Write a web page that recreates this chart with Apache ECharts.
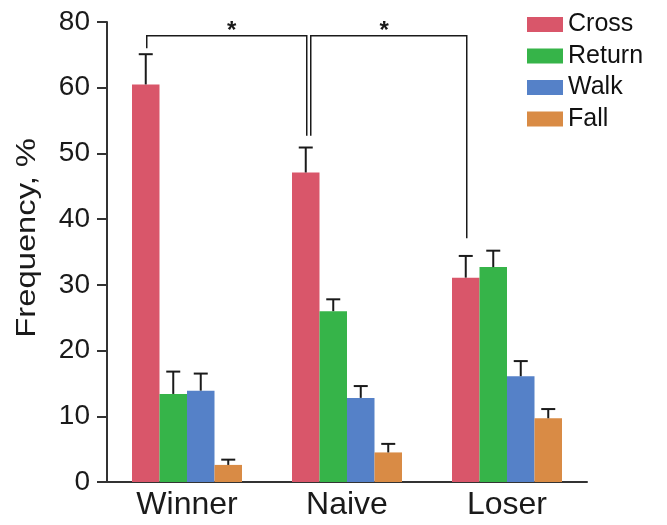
<!DOCTYPE html>
<html>
<head>
<meta charset="utf-8">
<script src="https://cdn.jsdelivr.net/npm/echarts@6/dist/echarts.min.js"></script>
<style>html,body{margin:0;padding:0;background:#fff}#c{width:667px;height:525px}</style>
</head>
<body>
<div id="c"></div>
<script>
const categories = ['Winner', 'Naive', 'Loser'];
const seriesNames = ['Cross', 'Return', 'Walk', 'Fall'];
const crossValues = [60.5, 47.1, 31.1];
const crossErr = [4.6, 3.8, 3.3];
const returnValues = [13.4, 26.0, 32.7];
const returnErr = [3.4, 1.8, 2.5];
const walkValues = [13.9, 12.8, 16.1];
const walkErr = [2.6, 1.8, 2.3];
const fallValues = [2.6, 4.5, 9.7];
const fallErr = [0.8, 1.3, 1.4];
const yTickLabels = ['0', '10', '20', '30', '40', '50', '60', '80'];
// significance brackets: [fromCategory, toCategory, level, leftLegBottom, rightLegBottom]
const brackets = [[0, 1, 67.9, 66.0, 52.7], [1, 2, 67.9, 52.7, 37.1]];
const bracketLabels = ['*', '*'];

const colors = ['#d9566a', '#36b449', '#5581c8', '#d98b45'];
const values = [crossValues, returnValues, walkValues, fallValues];
const errs = [crossErr, returnErr, walkErr, fallErr];
const catGap = 0.3125;
const starPos = [0.53, 0.47];
const font = '"Liberation Sans", Arial, Helvetica, sans-serif';

const chart = echarts.init(document.getElementById('c'));

function barWidth(api) {
  return api.size([1, 0])[0] * (1 - catGap) / 4;
}

const series = [];
seriesNames.forEach((name, i) => {
  series.push({
    name: name, type: 'bar', data: values[i],
    itemStyle: { color: colors[i] },
    barGap: '0%', barCategoryGap: (catGap * 100) + '%'
  });
});
seriesNames.forEach((name, i) => {
  series.push({
    type: 'custom', silent: true, z: 5,
    data: values[i].map((v, k) => [k, v, v + errs[i][k]]),
    encode: { x: 0, y: [1, 2] },
    renderItem: function (params, api) {
      const bw = barWidth(api);
      const off = (i - 1.5) * bw;
      const p0 = api.coord([api.value(0), api.value(1)]);
      const p1 = api.coord([api.value(0), api.value(2)]);
      const x = p0[0] + off;
      const st = { stroke: '#1a1a1a', lineWidth: 2 };
      return {
        type: 'group', children: [
          { type: 'line', shape: { x1: x, y1: p0[1], x2: x, y2: p1[1] }, style: st },
          { type: 'line', shape: { x1: x - 7, y1: p1[1], x2: x + 7, y2: p1[1] }, style: st }
        ]
      };
    }
  });
});
series.push({
  type: 'custom', silent: true, z: 6,
  data: brackets,
  encode: { x: [0, 1], y: [2, 3, 4] },
  renderItem: function (params, api) {
    const bw = barWidth(api);
    const off = -1.5 * bw;
    const idx = params.dataIndex;
    const a = api.coord([api.value(0), api.value(2)]);
    const b = api.coord([api.value(1), api.value(2)]);
    const la = api.coord([api.value(0), api.value(3)]);
    const lb = api.coord([api.value(1), api.value(4)]);
    let x1 = a[0] + off + 1, x2 = b[0] + off + 1;
    if (idx === 1) x1 += 4;
    const y = a[1];
    const st = { stroke: '#1a1a1a', lineWidth: 1.5 };
    const sx = x1 + (x2 - x1) * starPos[idx];
    return {
      type: 'group', children: [
        { type: 'polyline', shape: { points: [[x1, la[1]], [x1, y], [x2, y], [x2, lb[1]]] }, style: Object.assign({ fill: null }, st) },
        { type: 'text', x: sx, y: y - 4, style: { text: bracketLabels[idx], fill: '#1a1a1a', font: 'bold 24px ' + font, textAlign: 'center', textVerticalAlign: 'middle' } }
      ]
    };
  }
});

chart.setOption({
  animation: false,
  color: colors,
  grid: { left: 107, right: 80, top: 22, bottom: 43 },
  legend: {
    data: seriesNames, orient: 'vertical', left: 522, top: 7,
    icon: 'rect', itemWidth: 36, itemHeight: 15, itemGap: 6.5,
    textStyle: { fontFamily: font, fontSize: 25, color: '#111', padding: [0, 0, 0, 0] }
  },
  xAxis: {
    type: 'category', data: categories,
    axisLine: { lineStyle: { color: '#333', width: 2 } },
    axisTick: { show: false },
    axisLabel: { fontFamily: font, fontSize: 32, color: '#1a1a1a', margin: 7 }
  },
  yAxis: {
    type: 'value', min: 0, max: 70, interval: 10,
    splitLine: { show: false },
    axisLine: { show: true, onZero: false, lineStyle: { color: '#333', width: 2 } },
    axisTick: { show: true, length: 10, lineStyle: { color: '#333', width: 2 } },
    axisLabel: { fontFamily: font, fontSize: 28, color: '#1a1a1a', margin: 17, formatter: v => yTickLabels[Math.round(v / 10)] }
  },
  graphic: [{
    type: 'text', x: 13, y: 138, rotation: Math.PI / 2, scaleX: 1.17,
    originX: 0, originY: 0,
    style: { text: 'Frequency, %', font: '28px ' + font, fill: '#1a1a1a', textAlign: 'right', textVerticalAlign: 'top' }
  }],
  series: series
});
</script>
</body>
</html>
